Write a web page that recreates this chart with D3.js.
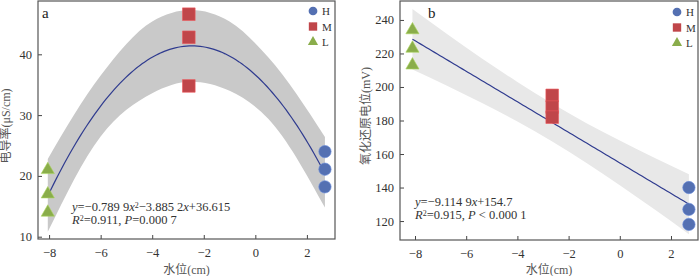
<!DOCTYPE html>
<html>
<head>
<meta charset="utf-8">
<script src="https://cdn.jsdelivr.net/npm/d3@7"></script>
<style>
  body { margin: 0; background: #fff; }
  svg { display: block; }
  text { font-family: "Liberation Serif", "Noto Sans CJK SC", serif; }
</style>
</head>
<body>
<svg id="chart" width="700" height="276"></svg>
<script>
// groups (water level, cm)
const groups = ['H', 'M', 'L'];
const groupColors = ['#5470b2', '#c0464a', '#8aad4b'];

// panel a - conductivity
const aX = { H: 2.7, M: -2.58, L: -8.05 };
const aValues = { H: [24.0, 21.1, 18.2], M: [46.6, 42.8, 34.8], L: [21.0, 17.0, 14.0] };
const aCoef = [36.615, -3.8852, -0.7899];
const aBandX = [-8.05, -6, -4, -2.5, -1, 0.5, 2.7];
const aBandHi = [22.8, 36.5, 45.4, 47.3, 45.4, 39.5, 26.4];
const aBandLo = [10.8, 26.5, 33.6, 35.5, 34.0, 29.4, 14.8];
const aYTicks = [10, 20, 30, 40];

// panel b - redox potential
const bX = { H: 2.7, M: -2.64, L: -8.1 };
const bValues = { H: [140, 127, 118], M: [195, 188, 182], L: [234, 223, 213] };
const bCoef = [154.7, -9.1149];
const bBandX = [-8.1, -6.75, -5.4, -4, -2.64, -1.3, 0, 1.35, 2.7];
const bBandHi = [246.5, 231.6, 217.2, 203.0, 190.1, 178.4, 168.0, 157.8, 148.0];
const bBandLo = [210.5, 200.8, 190.6, 179.4, 167.5, 154.7, 141.4, 127.0, 112.2];
const bYTicks = [120, 140, 160, 180, 200, 220, 240];

const xTicks = [-8, -6, -4, -2, 0, 2];

const svg = d3.select('#chart');

function poly(coef, x) {
  return coef.reduce((s, c, i) => s + c * Math.pow(x, i), 0);
}

function panel(o) {
  const g = svg.append('g');
  const xScale = d3.scaleLinear().domain(o.xDomain).range([o.left, o.right]);
  const yScale = d3.scaleLinear().domain(o.yDomain).range([o.bottom, o.top]);

  // confidence band
  const band = o.bandX.map((x, i) => ({ x: x, lo: o.bandLo[i], hi: o.bandHi[i] }));
  g.append('path')
    .datum(band)
    .attr('fill', o.bandColor)
    .attr('d', d3.area().curve(d3.curveMonotoneX)
      .x(d => xScale(d.x)).y0(d => yScale(d.lo)).y1(d => yScale(d.hi)));

  // fitted line
  const x0 = o.xs.L, x1 = o.xs.H;
  const fit = d3.range(0, 101).map(i => x0 + (x1 - x0) * i / 100);
  g.append('path')
    .datum(fit)
    .attr('fill', 'none')
    .attr('stroke', '#2f3b8f')
    .attr('stroke-width', 1.2)
    .attr('d', d3.line().x(d => xScale(d)).y(d => yScale(poly(o.coef, d))));

  // points
  const pts = [];
  groups.forEach((k, gi) => o.values[k].forEach(v => pts.push({ g: gi, x: o.xs[k], y: v })));
  const shapes = [d3.symbolCircle, d3.symbolSquare, d3.symbolTriangle];
  const sizes = [120, 160, 75];
  g.selectAll('path.pt')
    .data(pts)
    .enter()
    .append('path')
    .attr('class', 'pt')
    .attr('transform', d => `translate(${xScale(d.x)},${yScale(d.y)})`)
    .attr('d', d => d3.symbol().type(shapes[d.g]).size(sizes[d.g])())
    .attr('fill', d => groupColors[d.g])
    .attr('stroke', d => d3.color(groupColors[d.g]).brighter(0.6))
    .attr('stroke-width', 0.6);

  // axes
  const xAxis = d3.axisBottom(xScale).tickValues(xTicks).tickSize(-4).tickPadding(9);
  const ax = g.append('g').attr('transform', `translate(0,${o.bottom})`).call(xAxis);
  const yAxis = d3.axisLeft(yScale).tickValues(o.yTicks).tickSize(-4).tickPadding(6);
  const ay = g.append('g').attr('transform', `translate(${o.left},0)`).call(yAxis);
  [ax, ay].forEach(a => {
    a.select('.domain').remove();
    a.selectAll('line').attr('stroke', '#444');
    a.selectAll('text').attr('font-size', 12.5).attr('fill', '#333')
      .attr('font-family', '"Liberation Serif", serif');
  });

  // frame
  g.append('rect')
    .attr('x', o.left).attr('y', o.top)
    .attr('width', o.right - o.left).attr('height', o.bottom - o.top)
    .attr('fill', 'none').attr('stroke', '#555').attr('stroke-width', 1.2);

  // titles
  g.append('text')
    .attr('x', (o.left + o.right) / 2).attr('y', 273.5)
    .attr('text-anchor', 'middle').attr('font-size', 12).attr('fill', '#555')
    .text('水位(cm)');
  g.append('text')
    .attr('transform', `translate(${o.yTitleX},${o.yTitleY}) rotate(-90)`)
    .attr('text-anchor', 'middle').attr('font-size', 12).attr('fill', '#555')
    .text(o.yTitle);

  g.append('text')
    .attr('x', o.labelX).attr('y', 18)
    .attr('font-size', 15).attr('fill', '#222')
    .text(o.label);

  // equation
  const eq = g.append('g').attr('font-size', 12.5).attr('fill', '#333');
  o.eqLines.forEach((line, i) => {
    const t = eq.append('text').attr('x', o.eqX).attr('y', o.eqY + i * 13);
    line.forEach(p => {
      const ts = t.append('tspan').text(p[0]);
      if (p[1] === 'i') ts.attr('font-style', 'italic');
      if (p[1] === 's') ts.attr('baseline-shift', '35%').attr('font-size', 8);
    });
  });

  // legend
  const lg = g.append('g');
  groups.forEach((k, gi) => {
    const y = o.legendY + gi * 15.5;
    lg.append('path')
      .attr('transform', `translate(${o.legendX},${y})`)
      .attr('d', d3.symbol().type(shapes[gi]).size([60, 70, 45][gi])())
      .attr('fill', groupColors[gi]);
    lg.append('text')
      .attr('x', o.legendX + 9).attr('y', y + 4)
      .attr('font-size', 11).attr('fill', '#333')
      .text(k);
  });
}

panel({
  left: 38, right: 335, top: 1, bottom: 239,
  xDomain: [-8.43, 3.09], yDomain: [9.62, 48.77],
  xs: aX, values: aValues, coef: aCoef,
  bandX: aBandX, bandLo: aBandLo, bandHi: aBandHi, bandColor: '#c9c9c9',
  yTicks: aYTicks,
  yTitle: '电导率(μS/cm)', yTitleX: 10, yTitleY: 126,
  label: 'a', labelX: 42,
  eqX: 72, eqY: 211,
  eqLines: [
    [['y', 'i'], ['=−0.789 9'], ['x', 'i'], ['2', 's'], ['−3.885 2'], ['x', 'i'], ['+36.615']],
    [['R', 'i'], ['2', 's'], ['=0.911, '], ['P', 'i'], ['=0.000 7']]
  ],
  legendX: 313, legendY: 11
});

panel({
  left: 400, right: 698, top: 1, bottom: 240,
  xDomain: [-8.586, 3.055], yDomain: [108.7, 251.3],
  xs: bX, values: bValues, coef: bCoef,
  bandX: bBandX, bandLo: bBandLo, bandHi: bBandHi, bandColor: '#e8e8e8',
  yTicks: bYTicks,
  yTitle: '氧化还原电位(mV)', yTitleX: 370, yTitleY: 116,
  label: 'b', labelX: 428,
  eqX: 415, eqY: 206,
  eqLines: [
    [['y', 'i'], ['=−9.114 9'], ['x', 'i'], ['+154.7']],
    [['R', 'i'], ['2', 's'], ['=0.915, '], ['P', 'i'], [' < 0.000 1']]
  ],
  legendX: 677, legendY: 12
});
</script>
</body>
</html>
